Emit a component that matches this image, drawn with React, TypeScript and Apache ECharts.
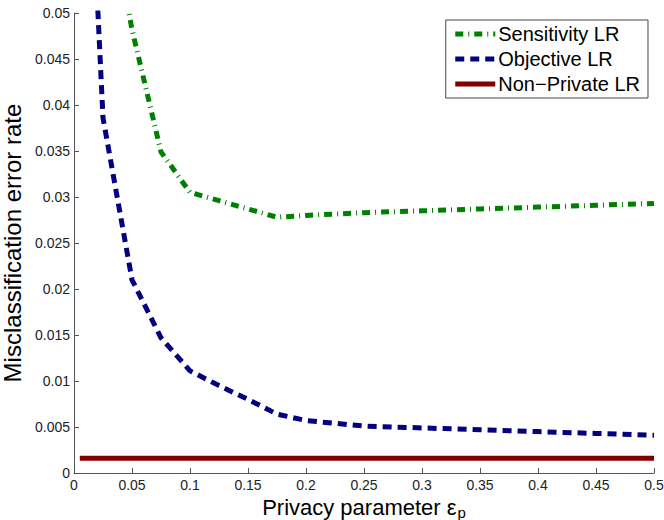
import React, { useEffect, useRef } from "react";
import * as echarts from "echarts";

const xTickLabels = ["0", "0.05", "0.1", "0.15", "0.2", "0.25", "0.3", "0.35", "0.4", "0.45", "0.5"];
const yTickLabels = ["0", "0.005", "0.01", "0.015", "0.02", "0.025", "0.03", "0.035", "0.04", "0.045", "0.05"];

const seriesNames = ["Sensitivity LR", "Objective LR", "Non\u2212Private LR"];

const sensX = [0.025, 0.05, 0.075, 0.1, 0.125, 0.15, 0.175, 0.2, 0.25, 0.3, 0.35, 0.4, 0.45, 0.5];
const sensY = [0.0655, 0.0482, 0.0349, 0.0305, 0.0296, 0.0287, 0.0278, 0.028, 0.0283, 0.0285, 0.0287, 0.0289, 0.0291, 0.0293];

const objX = [0.01, 0.025, 0.05, 0.075, 0.1, 0.125, 0.15, 0.175, 0.2, 0.25, 0.3, 0.35, 0.4, 0.45, 0.5];
const objY = [0.078, 0.0386, 0.021, 0.0147, 0.0111, 0.0095, 0.008, 0.0064, 0.0057, 0.0051, 0.0049, 0.0047, 0.0045, 0.0043, 0.0041];

const npX = [0.005, 0.5];
const npY = [0.0016, 0.0016];

const FONT = "'Liberation Sans', Arial, Helvetica, sans-serif";

function pairs(xs: number[], ys: number[]) {
  return xs.map((x, i) => [x, ys[i]]);
}

export default function App() {
  const ref = useRef<HTMLDivElement>(null);
  useEffect(() => {
    if (!ref.current) return;
    const chart = echarts.init(ref.current, undefined, { renderer: "svg" });
    const axisColor = "#555";
    chart.setOption({
      animation: false,
      backgroundColor: "#fff",
      grid: { left: 74, right: 10, top: 13, bottom: 47, containLabel: false, outerBoundsMode: "none" },
      legend: {
        orient: "vertical",
        right: 16,
        top: 20,
        padding: [4, 8, 4, 7],
        itemWidth: 40,
        itemHeight: 20,
        itemGap: 5,
        borderColor: "#444",
        borderWidth: 1,
        backgroundColor: "#fff",
        itemStyle: { opacity: 0 },
        lineStyle: { width: 5 },
        textStyle: { fontFamily: FONT, fontSize: 20, color: "#000", padding: [0, 0, 0, -2] },
        data: seriesNames,
      },
      xAxis: {
        type: "value",
        min: 0,
        max: 0.5,
        interval: 0.05,
        name: "Privacy parameter \u03b5{sub|p}",
        nameLocation: "middle",
        nameGap: 12,
        nameTextStyle: {
          fontFamily: FONT,
          fontSize: 22,
          color: "#000",
          rich: {
            sub: { fontFamily: FONT, fontSize: 15, color: "#000", padding: [10, 0, 0, 1] },
          },
        },
        axisLine: { show: true, lineStyle: { color: axisColor, width: 1 } },
        axisTick: { show: true, inside: true, length: 5, lineStyle: { color: axisColor } },
        axisLabel: {
          fontFamily: FONT,
          fontSize: 14,
          color: "#222",
          margin: 5,
          formatter: (v: number) => xTickLabels[Math.round(v / 0.05)] ?? "",
        },
        splitLine: { show: false },
      },
      yAxis: {
        type: "value",
        min: 0,
        max: 0.05,
        interval: 0.005,
        name: "Misclassification error rate",
        nameLocation: "middle",
        nameGap: 41,
        nameTextStyle: { fontFamily: FONT, fontSize: 24, color: "#000" },
        axisLine: { show: true, lineStyle: { color: axisColor, width: 1 } },
        axisTick: { show: true, inside: true, length: 5, lineStyle: { color: axisColor } },
        axisLabel: {
          fontFamily: FONT,
          fontSize: 14,
          color: "#222",
          margin: 4,
          formatter: (v: number) => yTickLabels[Math.round(v / 0.005)] ?? "",
        },
        splitLine: { show: false },
      },
      series: [
        {
          name: seriesNames[0],
          type: "line",
          data: pairs(sensX, sensY),
          symbol: "none",
          clip: true,
          color: "#008000",
          lineStyle: { color: "#008000", width: 5, type: [8, 5, 1, 5], cap: "butt" },
          z: 3,
        },
        {
          name: seriesNames[1],
          type: "line",
          data: pairs(objX, objY),
          symbol: "none",
          clip: true,
          color: "#000080",
          lineStyle: { color: "#000080", width: 5, type: [9, 6], cap: "butt" },
          z: 3,
        },
        {
          name: seriesNames[2],
          type: "line",
          data: pairs(npX, npY),
          symbol: "none",
          clip: true,
          color: "#800000",
          lineStyle: { color: "#800000", width: 5, type: "solid", cap: "butt" },
          z: 2,
        },
      ],
    });
    return () => chart.dispose();
  }, []);
  return <div ref={ref} style={{ width: 664, height: 520, position: "absolute", left: 0, top: 0 }} />;
}
